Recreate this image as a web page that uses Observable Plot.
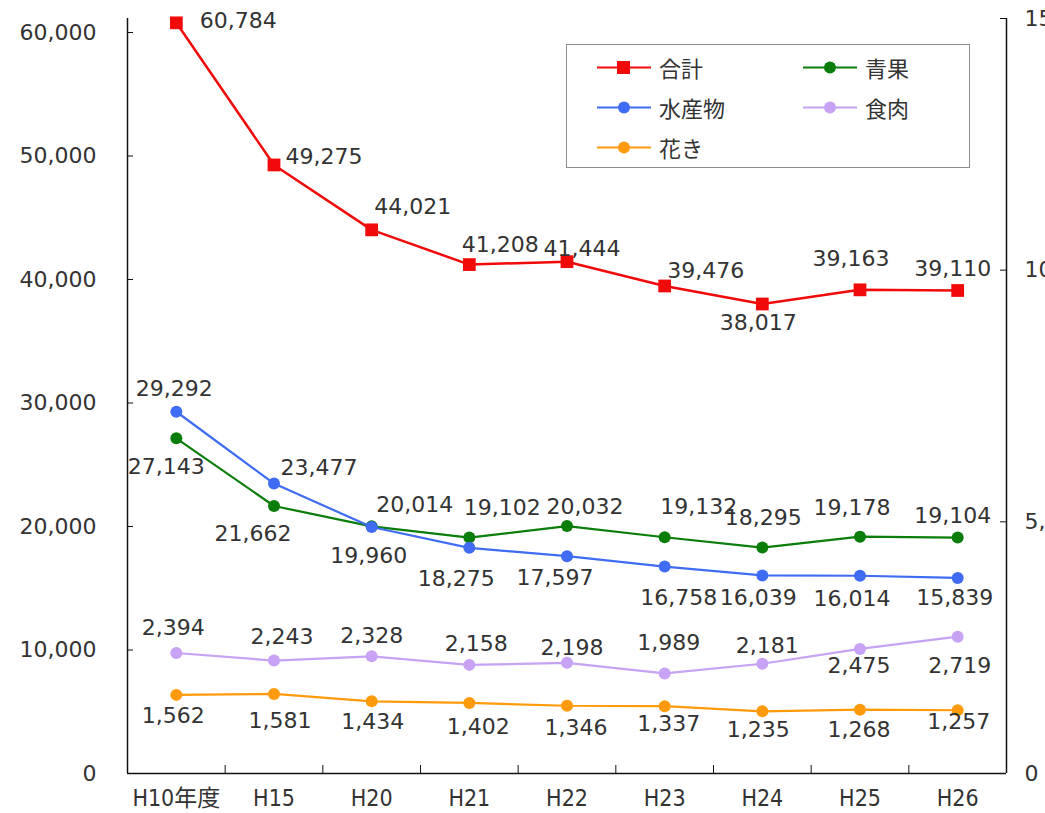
<!DOCTYPE html>
<html>
<head>
<meta charset="utf-8">
<script src="https://cdn.jsdelivr.net/npm/d3@7"></script>
<script src="https://cdn.jsdelivr.net/npm/@observablehq/plot@0.6"></script>
<style>
  html, body { margin: 0; padding: 0; background: white; overflow: hidden; }
  #wrap { position: relative; width: 1045px; height: 813px; }
  g[aria-label^="x-axis"] text { font-family: "Liberation Sans Narrow", "DejaVu Sans Condensed", "Liberation Sans", "Noto Sans CJK JP", sans-serif; font-stretch: condensed; font-size: 23px; }
  #legend { position: absolute; left: 566px; top: 44px; width: 402px; height: 122px; border: 1px solid #8c8c8c; background: white;
    font-family: "Noto Sans CJK JP", sans-serif; font-size: 22px; color: #333; }
  .item { position: absolute; display: flex; align-items: center; height: 30px; }
  .item svg { margin-right: 8px; }
</style>
</head>
<body>
<div id="wrap"><div id="legend"></div></div>
<script>
// ---- data ----
const categories = ["H10年度", "H15", "H20", "H21", "H22", "H23", "H24", "H25", "H26"];
const seriesNames = ["合計", "青果", "水産物", "食肉", "花き"];
const total    = [60784, 49275, 44021, 41208, 41444, 39476, 38017, 39163, 39110];
const produce  = [27143, 21662, 20014, 19102, 20032, 19132, 18295, 19178, 19104];
const seafood  = [29292, 23477, 19960, 18275, 17597, 16758, 16039, 16014, 15839];
const meat     = [2394, 2243, 2328, 2158, 2198, 1989, 2181, 2475, 2719];   // right axis
const flowers  = [1562, 1581, 1434, 1402, 1346, 1337, 1235, 1268, 1257];   // right axis
const leftTicks  = [0, 10000, 20000, 30000, 40000, 50000, 60000];
const rightTicks = [0, 5000, 10000, 15000];
const leftTop = 61134;   // left-axis value at top of frame
const rightTop = 15000;  // right-axis value at top of frame

// ---- label offsets (px) ----
const totalOff   = [[62,-2],[50,-8],[41,-23],[31,-20],[15,-13],[41,-15],[-4,19],[-9,-31],[-5,-22]];
const seafoodOff = [[-2,-23],[45,-16],[-3,29],[-13,31],[-12,22],[14,31],[-4,23],[-8,23],[-3,20]];
const produceOff = [[-10,29],[-21,28],[43,-21],[33,-30],[18,-19],[34,-30],[1,-30],[-8,-29],[-5,-22]];
const meatOff    = [[-3,-25],[8,-24],[0,-20],[7,-21],[5,-15],[4,-30],[5,-18],[-1,17],[2,29]];
const flowersOff = [[-3,21],[6,27],[1,21],[9,24],[9,22],[4,18],[-4,19],[-1,20],[1,12]];

// ---- styles ----
const colors = {"合計": "#f00a0a", "青果": "#0a7d0a", "水産物": "#3f6cf2", "食肉": "#c7a2f5", "花き": "#ff9a0a"};
const FONT = '"DejaVu Sans", "Noto Sans CJK JP", sans-serif';
const W = 1045, H = 813, mL = 127, mR = 39, mT = 18, mB = 40;
const plotW = W - mL - mR, plotH = H - mT - mB;
const step = plotW / categories.length;
const k = leftTop / rightTop;
const fmt = d3.format(",");

const series = [
  {name: "合計", values: total, scale: 1, off: totalOff, symbol: "square", r: 7.2, sw: 2.5},
  {name: "青果", values: produce, scale: 1, off: produceOff, symbol: "circle", r: 6, sw: 2.2},
  {name: "水産物", values: seafood, scale: 1, off: seafoodOff, symbol: "circle", r: 6, sw: 2.2},
  {name: "食肉", values: meat, scale: k, off: meatOff, symbol: "circle", r: 6, sw: 2.2},
  {name: "花き", values: flowers, scale: k, off: flowersOff, symbol: "circle", r: 6, sw: 2.2}
];

const marks = [
  Plot.ruleY([0], {stroke: "#111", strokeWidth: 1.5}),
  Plot.ruleX([categories[0]], {dx: -step / 2, stroke: "#111", strokeWidth: 1.5}),
  Plot.ruleX([categories[categories.length - 1]], {dx: step / 2, stroke: "#111", strokeWidth: 1.5}),
  Plot.tickX(categories.slice(1), {x: d => d, dx: -step / 2, insetTop: plotH - 8, stroke: "#111"}),
  Plot.tickY(leftTicks.slice(1), {y: d => d, insetRight: plotW - 6, stroke: "#111"}),
  Plot.tickY(rightTicks.slice(1), {y: d => d * k, insetLeft: plotW - 6, stroke: "#111"}),
  Plot.text(rightTicks, {y: d => d * k, text: d => fmt(d), frameAnchor: "right", dx: 18, textAnchor: "start", fill: "#333", fontSize: 22})
];

for (const s of series) {
  const rows = s.values.map((v, i) => ({cat: categories[i], v: v * s.scale, label: fmt(v)}));
  marks.push(Plot.line(rows, {x: "cat", y: "v", stroke: colors[s.name], strokeWidth: s.sw}));
  marks.push(Plot.dot(rows, {x: "cat", y: "v", fill: colors[s.name], stroke: "none", symbol: s.symbol, r: s.r}));
  rows.forEach((row, i) => {
    marks.push(Plot.text([row], {x: "cat", y: "v", text: "label", dx: s.off[i][0], dy: s.off[i][1],
      fill: "#333", fontSize: 22, textAnchor: "middle"}));
  });
}

const chart = Plot.plot({
  width: W, height: H,
  marginLeft: mL, marginRight: mR, marginTop: mT, marginBottom: mB,
  style: {fontSize: "22px", fontFamily: FONT, color: "#333", background: "white", overflow: "visible"},
  x: {type: "point", domain: categories, padding: 0.5, round: false, tickSize: 0, tickPadding: 16, label: null},
  y: {domain: [0, leftTop], ticks: leftTicks, tickSize: 0, tickPadding: 31, tickFormat: d3.format(","), label: null},
  marks
});
document.getElementById("wrap").insertBefore(chart, document.getElementById("legend"));

// ---- legend ----
const legend = document.getElementById("legend");
const legendPos = {"合計": [30, 7], "青果": [236, 7], "水産物": [30, 47], "食肉": [236, 47], "花き": [30, 87]};
for (const s of series) {
  const [lx, ly] = legendPos[s.name];
  const c = colors[s.name];
  const marker = s.symbol === "square"
    ? `<rect x="20" y="9" width="13" height="13" fill="${c}"/>`
    : `<circle cx="27" cy="15.5" r="6" fill="${c}"/>`;
  const div = document.createElement("div");
  div.className = "item";
  div.style.left = lx + "px";
  div.style.top = ly + "px";
  div.innerHTML = `<svg width="54" height="31"><line x1="0" x2="54" y1="15.5" y2="15.5" stroke="${c}" stroke-width="2.2"/>${marker}</svg><span>${s.name}</span>`;
  legend.appendChild(div);
}
</script>
</body>
</html>
